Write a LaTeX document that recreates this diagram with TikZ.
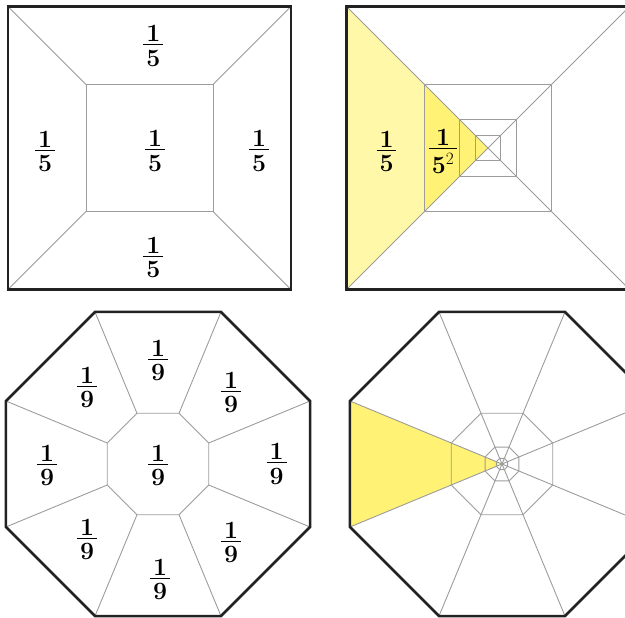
\documentclass[tikz,border=0pt]{standalone}
\usepackage{amsmath,amssymb}
\usepackage{tikz}
\usetikzlibrary{calc}
\usepackage{xcolor}

\definecolor{paleyellow}{HTML}{FFF8A8}
\definecolor{deepyellow}{HTML}{FFF275}
\definecolor{webgray}{HTML}{9C9C9C}
\definecolor{rimblack}{HTML}{222222}

% numerator over a short bar over denominator
\newcommand{\fracpiece}[2]{%
  \vbox{\offinterlineskip\halign{\hfil##\hfil\cr
    \kern3pt$#1$\kern3pt\cr
    \noalign{\kern2.5pt}
    \omit\leaders\hrule height 1.1pt\hfill\cr
    \noalign{\kern5pt}
    \kern3pt$#2$\kern3pt\cr}}}

\tikzset{
  rim/.style={draw=rimblack,line width=2.6pt,line join=miter},
  web/.style={draw=webgray,line width=0.9pt},
  fraclabel/.style={inner sep=0pt,font=\Huge\boldmath,yshift=-1.5pt}
}

\begin{document}
\begin{tikzpicture}[x=1pt,y=-1pt]
\useasboundingbox (0,0) rectangle (625,618);
\clip (0,0) rectangle (625,618);

% top left: square in five equal parts
\coordinate (sqA) at (149.5,148);
\draw[web] ($(sqA)+(-63.5,-63.5)$) rectangle ($(sqA)+(63.5,63.5)$);
\foreach \sx/\sy in {-1/-1,1/-1,1/1,-1/1}
  \draw[web] ($(sqA)+(63.5*\sx,63.5*\sy)$) -- ($(sqA)+(141.5*\sx,141.5*\sy)$);
\draw[rim] ($(sqA)+(-141.5,-141.5)$) rectangle ($(sqA)+(141.5,141.5)$);
\node[fraclabel] (sqAc) at (155,149.5) {\fracpiece{1}{5}};
\node[fraclabel] (sqAt) at (153.3,44.3) {\fracpiece{1}{5}};
\node[fraclabel] (sqAl) at (45,150) {\fracpiece{1}{5}};
\node[fraclabel] (sqAr) at (259,149.5) {\fracpiece{1}{5}};
\node[fraclabel] (sqAb) at (153.3,256) {\fracpiece{1}{5}};

% top right: nested squares
\coordinate (sqB) at (488,148);
\fill[paleyellow] ($(sqB)+(-141.5,-141.5)$) -- ($(sqB)+(-63.3,-63.3)$)
  -- ($(sqB)+(-63.3,63.3)$) -- ($(sqB)+(-141.5,141.5)$) -- cycle;
\fill[deepyellow] ($(sqB)+(-63.3,-63.3)$) -- (sqB) -- ($(sqB)+(-63.3,63.3)$) -- cycle;
\foreach \k in {1,2,3} {
  \pgfmathsetmacro\h{141.5/sqrt(5)^\k}
  \draw[web] ($(sqB)+(-\h,-\h)$) rectangle ($(sqB)+(\h,\h)$);
}
\foreach \sx/\sy in {-1/-1,1/-1,1/1,-1/1}
  \draw[web] (sqB) -- ($(sqB)+(141.5*\sx,141.5*\sy)$);
\draw[rim] ($(sqB)+(-141.5,-141.5)$) rectangle ($(sqB)+(141.5,141.5)$);
\node[fraclabel] (sqBone) at (386.5,150) {\fracpiece{1}{5}};
\node[fraclabel] (sqBtwo) at (443,150)
  {\fracpiece{1}{5^{\mbox{\unboldmath$\scriptscriptstyle 2$}}}};

% bottom left: octagon in nine equal parts
\coordinate (ocA) at (158,464);
\draw[web] ($(ocA)+(22.5:54.9)$)
  \foreach \i in {1,...,7} { -- ($(ocA)+(22.5+45*\i:54.9)$) } -- cycle;
\foreach \i in {0,...,7}
  \draw[web] ($(ocA)+(22.5+45*\i:54.9)$) -- ($(ocA)+(22.5+45*\i:164.6)$);
\draw[rim] ($(ocA)+(22.5:164.6)$)
  \foreach \i in {1,...,7} { -- ($(ocA)+(22.5+45*\i:164.6)$) } -- cycle;
\node[fraclabel] (ocAc) at (158,464) {\fracpiece{1}{9}};
\foreach \px/\py [count=\i] in {276.7/462.5,231/391,158/359,87/386,
                                47/464,87/538,160/578,231/541}
  \node[fraclabel] (ocA\i) at (\px,\py) {\fracpiece{1}{9}};

% bottom right: nested octagons
\coordinate (ocB) at (502,464);
\fill[deepyellow] (ocB) -- ($(ocB)+(157.5:164.6)$) -- ($(ocB)+(202.5:164.6)$) -- cycle;
\foreach \r in {54.9,18.3,6.1}
  \draw[web] ($(ocB)+(22.5:\r)$)
    \foreach \i in {1,...,7} { -- ($(ocB)+(22.5+45*\i:\r)$) } -- cycle;
\foreach \i in {0,...,7}
  \draw[web] (ocB) -- ($(ocB)+(22.5+45*\i:164.6)$);
\draw[rim] ($(ocB)+(22.5:164.6)$)
  \foreach \i in {1,...,7} { -- ($(ocB)+(22.5+45*\i:164.6)$) } -- cycle;
\end{tikzpicture}
\end{document}
